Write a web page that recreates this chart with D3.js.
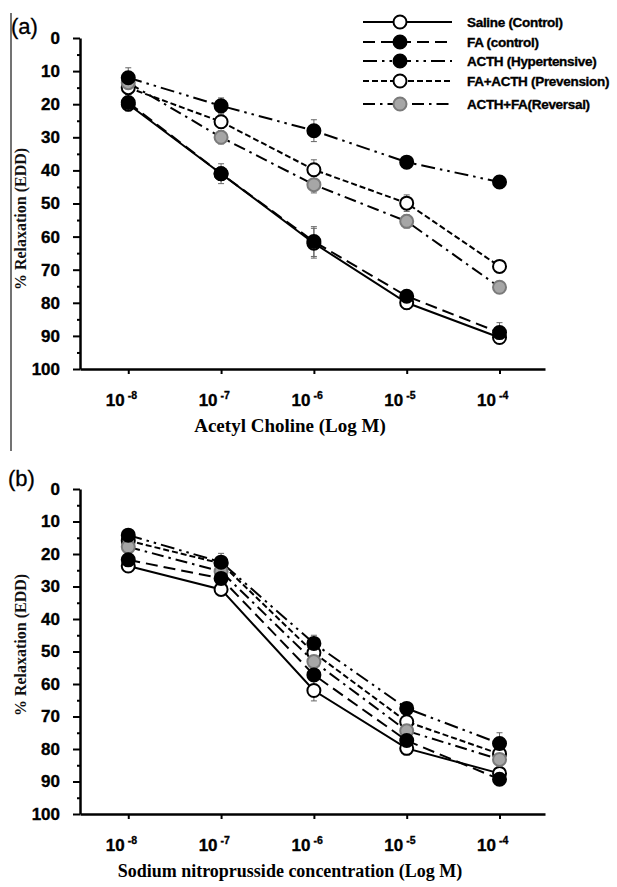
<!DOCTYPE html>
<html><head><meta charset="utf-8">
<script src="https://cdn.jsdelivr.net/npm/d3@7"></script>
<style>body{margin:0;background:#fff;} svg{display:block;}</style>
</head><body>
<svg id="chart" width="617" height="887"></svg>
<script>
// ---------- data ----------
const doses = [-8, -7, -6, -5, -4];
const seriesNames = ["Saline (Control)", "FA (control)", "ACTH (Hypertensive)", "FA+ACTH (Prevension)", "ACTH+FA(Reversal)"];
const yTicks = [0, 10, 20, 30, 40, 50, 60, 70, 80, 90, 100];
const yMinorTicks = [5, 15, 25, 35, 45, 55, 65, 75, 85, 95];

// panel (a) Acetyl choline
const salineA = [20, 41, 62, 80, 90.5];
const faA     = [19.5, 41, 61.5, 78, 89];
const acthA   = [12, 20.5, 28, 37.5, 43.5];
const prevA   = [15, 25.3, 39.8, 49.9, 69];
const revA    = [13.5, 30, 44.3, 55.4, 75.3];
const salineAErr = [2, 2, 4.5, 2, 1.5];
const faAErr     = [2.5, 3, 4.5, 1.5, 3];
const acthAErr   = [3, 2.4, 3.3, 1.5, 1.5];
const prevAErr   = [2, 2, 3, 2.5, 1.5];
const revAErr    = [2, 2, 2.5, 2, 1.5];

// panel (b) Sodium nitroprusside
const salineB = [23.7, 30.9, 62, 79.8, 87.5];
const faB     = [21.8, 27.5, 57.2, 77.4, 89.3];
const acthB   = [14.2, 22.5, 47.5, 67.5, 78.3];
const prevB   = [15.9, 22.9, 50.4, 71.6, 81.5];
const revB    = [17.8, 25.4, 53.1, 74.4, 83.2];
const salineBErr = [1.5, 1.5, 3.2, 2, 1.5];
const faBErr     = [1.5, 1.5, 2, 1.5, 1.5];
const acthBErr   = [1.5, 2.7, 2.5, 1.5, 3.3];
const prevBErr   = [1.5, 2, 2, 2, 2];
const revBErr    = [1.5, 2, 2, 2, 2];

// ---------- styles ----------
const styles = [
  {dash: null, fill: "#fff", stroke: "#000"},
  {dash: "12,6", fill: "#000", stroke: "#000"},
  {dash: "14,5,2.5,5,2.5,5", fill: "#000", stroke: "#000"},
  {dash: "6,3", fill: "#fff", stroke: "#000"},
  {dash: "12,5,2.5,5", fill: "#a6a6a6", stroke: "#7a7a7a"}
];
const drawOrder = [0, 3, 4, 1, 2];

const svg = d3.select("#chart");
const sans = "'Liberation Sans', Arial, sans-serif";
const serif = "'Liberation Serif', 'Times New Roman', serif";

// left border line of panel (a)
svg.append("line").attr("x1", 11).attr("x2", 11).attr("y1", 13).attr("y2", 451)
  .attr("stroke", "#444").attr("stroke-width", 1.5);

const x = d3.scaleLinear().domain([-8.52, -3.51]).range([80, 545]);

function boldText(sel, size) {
  sel.attr("font-family", sans).attr("font-weight", "bold").attr("font-size", size)
    .attr("fill", "#000").attr("stroke", "#000").attr("stroke-width", 0.35);
}

function drawPanel(cfg) {
  const y = d3.scaleLinear().domain([0, 100]).range([cfg.top, cfg.bottom]);
  const g = svg.append("g");

  // y axis
  const ya = g.append("g").attr("transform", "translate(80,0)")
    .call(d3.axisLeft(y).tickValues(yTicks).tickSize(7).tickSizeOuter(0).tickPadding(13));
  ya.select(".domain").attr("stroke-width", 2.5);
  ya.selectAll(".tick line").attr("stroke-width", 2);
  boldText(ya.selectAll(".tick text"), 17);
  const ym = g.append("g").attr("transform", "translate(80,0)")
    .call(d3.axisLeft(y).tickValues(yMinorTicks).tickSize(3).tickFormat(""));
  ym.select(".domain").remove();
  ym.selectAll(".tick line").attr("stroke-width", 2);

  // x axis
  const xa = g.append("g").attr("transform", `translate(0,${cfg.bottom})`)
    .call(d3.axisBottom(x).tickValues(doses).tickSize(5).tickSizeOuter(0));
  xa.select(".domain").attr("stroke-width", 2.5);
  xa.selectAll(".tick line").attr("stroke-width", 2);
  xa.selectAll(".tick text").remove();
  xa.selectAll(".tick").each(function(d) {
    const t = d3.select(this);
    boldText(t.append("text").attr("x", -4).attr("y", 37).attr("text-anchor", "end").text("10"), 17);
    boldText(t.append("text").attr("x", -1).attr("y", 30).attr("text-anchor", "start")
      .text("-" + String(-d)), 10.5);
  });

  // axis titles
  g.append("text").attr("x", 290).attr("y", cfg.bottom + 63).attr("text-anchor", "middle")
    .attr("font-family", serif).attr("font-weight", "bold").attr("font-size", cfg.xTitleSize)
    .attr("fill", "#000").text(cfg.xTitle);
  g.append("text").attr("transform", `translate(26,${cfg.yTitleCenter}) rotate(-90)`)
    .attr("text-anchor", "middle").attr("font-family", serif).attr("font-weight", "bold")
    .attr("font-size", 16).attr("fill", "#111").text("% Relaxation (EDD)");

  // panel label
  g.append("text").attr("x", cfg.labelX).attr("y", cfg.labelY)
    .attr("font-family", sans).attr("font-size", 22).attr("fill", "#000")
    .attr("stroke", "#000").attr("stroke-width", 0.3).text(cfg.label);

  const line = d3.line().x((d, i) => x(doses[i])).y(d => y(d));

  // lines
  cfg.values.forEach((vals, k) => {
    g.append("path").attr("d", line(vals)).attr("fill", "none")
      .attr("stroke", "#000").attr("stroke-width", 2)
      .attr("stroke-dasharray", styles[k].dash);
  });
  // error bars
  cfg.values.forEach((vals, k) => {
    vals.forEach((v, i) => {
      const e = cfg.errors[k][i];
      const cx = x(doses[i]);
      const eg = g.append("g").attr("stroke", "#666").attr("stroke-width", 1);
      eg.append("line").attr("x1", cx).attr("x2", cx).attr("y1", y(v - e)).attr("y2", y(v + e));
      eg.append("line").attr("x1", cx - 3).attr("x2", cx + 3).attr("y1", y(v - e)).attr("y2", y(v - e));
      eg.append("line").attr("x1", cx - 3).attr("x2", cx + 3).attr("y1", y(v + e)).attr("y2", y(v + e));
    });
  });
  // markers
  drawOrder.forEach(k => {
    g.append("g").selectAll("circle").data(cfg.values[k]).join("circle")
      .attr("cx", (d, i) => x(doses[i])).attr("cy", d => y(d)).attr("r", 6.5)
      .attr("fill", styles[k].fill).attr("stroke", styles[k].stroke).attr("stroke-width", 2);
  });
}

drawPanel({
  top: 38, bottom: 369, label: "(a)", labelX: 11, labelY: 34, yTitleCenter: 219,
  xTitle: "Acetyl Choline (Log M)", xTitleSize: 19,
  values: [salineA, faA, acthA, prevA, revA],
  errors: [salineAErr, faAErr, acthAErr, prevAErr, revAErr]
});
drawPanel({
  top: 489, bottom: 814, label: "(b)", labelX: 8, labelY: 486, yTitleCenter: 645,
  xTitle: "Sodium nitroprusside concentration (Log M)", xTitleSize: 18,
  values: [salineB, faB, acthB, prevB, revB],
  errors: [salineBErr, faBErr, acthBErr, prevBErr, revBErr]
});

// legend
const legendY = [22, 42, 61, 81, 104];
const lg = svg.append("g");
seriesNames.forEach((name, k) => {
  const yy = legendY[k];
  lg.append("line").attr("x1", 363).attr("x2", 452).attr("y1", yy).attr("y2", yy)
    .attr("stroke", "#000").attr("stroke-width", 2).attr("stroke-dasharray", styles[k].dash);
  lg.append("circle").attr("cx", 400).attr("cy", yy).attr("r", 6.5)
    .attr("fill", styles[k].fill).attr("stroke", styles[k].stroke).attr("stroke-width", 2);
  boldText(lg.append("text").attr("x", 467).attr("y", yy).attr("dy", "0.35em")
    .attr("letter-spacing", "-0.3px").text(name), 13.5);
});
</script>
</body></html>
